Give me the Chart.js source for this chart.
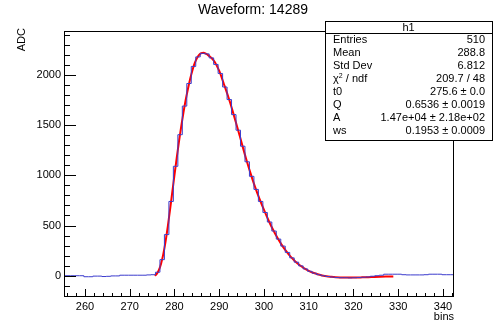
<!DOCTYPE html>
<html>
<head>
<meta charset="utf-8">
<script src="https://cdn.jsdelivr.net/npm/chart.js@4"></script>
<style>
  html, body { margin: 0; padding: 0; background: #fff; }
  #wave { display: block; }
</style>
</head>
<body>
<canvas id="wave" width="494" height="322"></canvas>
<script>
// histogram: unit bins, first bin starts at binStart
const binStart = 255.75;
const binValues = [
  0, 0, 0, 0, -10, -10, -4, -4, -8, -6,            // 255.75 ...
  -2, -2, 5, 5, 5, 5, 5, 5, 8, 10,                 // 265.75 ...
  35, 160, 410, 740, 1090, 1405, 1690, 1915, 2085, 2180,     // 275.75 ...
  2215, 2210, 2170, 2105, 2015, 1880, 1755, 1605, 1450, 1290, // 285.75 ...
  1135, 990, 860, 740, 630, 535, 445, 365, 295, 232, // 295.75 ...
  178, 135, 98, 68, 44, 25, 10, 0, -8, -13,        // 305.75 ...
  -18, -20, -20, -22, -20, -18, -15, -12, -5, 0,   // 315.75 ...
  5, 15, 15, 15, 15, 10, 8, 8, 8, 8,               // 325.75 ...
  10, 15, 15, 15, 10, 10, 10                       // 335.75 ...
];
const leadValue = 0; // bin just left of the first one

// fit curve
const fitX = [275.6, 276, 276.5, 277, 277.5, 278, 278.5, 279, 279.5, 280,
  280.5, 281, 281.5, 282, 282.5, 283, 283.5, 284, 284.5, 285,
  285.5, 286, 286.5, 287, 287.5, 288, 289, 290, 291, 292,
  293, 294, 295, 296, 297, 298, 299, 300, 301, 302,
  303, 304, 305, 306, 307, 308, 309, 310, 311, 312,
  313, 314, 315, 316, 317, 318, 320, 322, 324, 326, 328, 328.9];
const fitY = [0, 15, 55, 120, 215, 340, 490, 655, 830, 1005,
  1175, 1335, 1485, 1625, 1750, 1860, 1960, 2045, 2115, 2165,
  2200, 2218, 2222, 2212, 2198, 2180, 2130, 2040, 1915, 1785,
  1640, 1485, 1325, 1165, 1020, 885, 765, 655, 553, 460,
  378, 305, 242, 187, 142, 104, 73, 48, 29, 14,
  3, -6, -11, -15, -17, -18, -18, -16, -13, -10, -8, -7];

const xTicks = [260, 270, 280, 290, 300, 310, 320, 330, 340];
const yTicks = [0, 500, 1000, 1500, 2000];

const statsRows = [
  ["Entries", "510"],
  ["Mean", "288.8"],
  ["Std Dev", "6.812"],
  ["chi2", "209.7 / 48"],
  ["t0", "275.6 \u00b1 0.0"],
  ["Q", "0.6536 \u00b1 0.0019"],
  ["A", "1.47e+04 \u00b1 2.18e+02"],
  ["ws", "0.1953 \u00b1 0.0009"]
];

const FONT = "'Liberation Sans', Arial, Helvetica, sans-serif";

const histPoints = [{ x: binStart - 1, y: leadValue }];
binValues.forEach((v, i) => histPoints.push({ x: binStart + i, y: v }));
histPoints.push({ x: binStart + binValues.length, y: binValues[binValues.length - 1] });
const fitPoints = fitX.map((x, i) => ({ x: x, y: fitY[i] }));

// frame, inward ticks, titles and stats box in ROOT style
const rootDecor = {
  id: "rootDecor",
  afterDraw(chart) {
    const ctx = chart.ctx;
    const a = chart.chartArea;
    const xs = chart.scales.x;
    const ys = chart.scales.y;
    ctx.save();
    ctx.strokeStyle = "#000";
    ctx.lineWidth = 1;
    ctx.strokeRect(a.left + 0.5, a.top + 0.5, a.right - a.left - 1, a.bottom - a.top - 1);

    ctx.beginPath();
    for (let v = 256; v <= 342; v += 2) {
      const px = Math.round(xs.getPixelForValue(v)) + 0.5;
      const len = v % 10 === 0 ? 8 : 4;
      ctx.moveTo(px, a.bottom);
      ctx.lineTo(px, a.bottom - len);
    }
    for (let v = -200; v <= 2400; v += 100) {
      const py = Math.round(ys.getPixelForValue(v)) + 0.5;
      const len = v % 500 === 0 ? 12 : 6;
      ctx.moveTo(a.left, py);
      ctx.lineTo(a.left + len, py);
    }
    ctx.stroke();

    ctx.fillStyle = "#000";
    ctx.font = "14px " + FONT;
    ctx.textAlign = "center";
    ctx.textBaseline = "middle";
    ctx.fillText("Waveform: 14289", 253, 10);

    ctx.font = "11px " + FONT;
    ctx.textAlign = "right";
    ctx.fillText("bins", a.right, 317);

    ctx.save();
    ctx.translate(22, a.top - 3);
    ctx.rotate(-Math.PI / 2);
    ctx.textAlign = "right";
    ctx.fillText("ADC", 0, 0);
    ctx.restore();

    // stats box
    const bx = 325, by = 21, bw = 167, bh = 119;
    ctx.fillStyle = "#fff";
    ctx.fillRect(bx, by, bw, bh);
    ctx.strokeRect(bx + 0.5, by + 0.5, bw, bh);
    ctx.beginPath();
    ctx.moveTo(bx, by + 12.5);
    ctx.lineTo(bx + bw, by + 12.5);
    ctx.stroke();

    ctx.fillStyle = "#000";
    ctx.font = "11px " + FONT;
    ctx.textAlign = "center";
    ctx.fillText("h1", bx + bw / 2, by + 6.5);
    statsRows.forEach((r, i) => {
      const ty = 40 + i * 13;
      ctx.textAlign = "left";
      if (r[0] === "chi2") {
        ctx.fillText("\u03c7", 333, ty);
        const w = ctx.measureText("\u03c7").width;
        ctx.font = "7px " + FONT;
        ctx.fillText("2", 333 + w, ty - 3);
        ctx.font = "11px " + FONT;
        ctx.fillText(" / ndf", 333 + w + 4, ty);
      } else {
        ctx.fillText(r[0], 333, ty);
      }
      ctx.textAlign = "right";
      ctx.fillText(r[1], 485, ty);
    });
    ctx.restore();
  }
};

const config = {
  type: "line",
  data: {
    datasets: [
      {
        label: "h1",
        data: histPoints,
        stepped: "before",
        borderColor: "rgb(60,60,205)",
        borderWidth: 1,
        pointRadius: 0,
        fill: false,
      },
      {
        label: "fit",
        data: fitPoints,
        borderColor: "#ff0000",
        borderWidth: 2,
        pointRadius: 0,
        cubicInterpolationMode: "monotone",
        fill: false,
      },
    ],
  },
  options: {
    responsive: false,
    animation: false,
    devicePixelRatio: 1,
    layout: { padding: { left: 0, right: 40, top: 31, bottom: 0 } },
    plugins: {
      legend: { display: false },
      tooltip: { enabled: false },
    },
    scales: {
      x: {
        type: "linear",
        min: 255.31,
        max: 342.46,
        grid: { display: false, drawTicks: false },
        border: { display: false },
        afterBuildTicks: (s) => { s.ticks = xTicks.map((v) => ({ value: v })); },
        afterFit: (s) => { s.height = 25; },
        ticks: {
          autoSkip: false,
          maxRotation: 0,
          padding: 3,
          color: "#000",
          font: { family: FONT, size: 11 },
          callback: (v) => String(v),
        },
      },
      y: {
        type: "linear",
        min: -212,
        max: 2438,
        grid: { display: false, drawTicks: false },
        border: { display: false },
        afterBuildTicks: (s) => { s.ticks = yTicks.map((v) => ({ value: v })); },
        afterFit: (s) => { s.width = 64; },
        ticks: {
          padding: 3,
          color: "#000",
          font: { family: FONT, size: 11 },
          callback: (v) => String(v),
        },
      },
    },
  },
  plugins: [rootDecor],
};

const waveChart = new Chart(document.getElementById("wave"), config);
</script>
</body>
</html>
